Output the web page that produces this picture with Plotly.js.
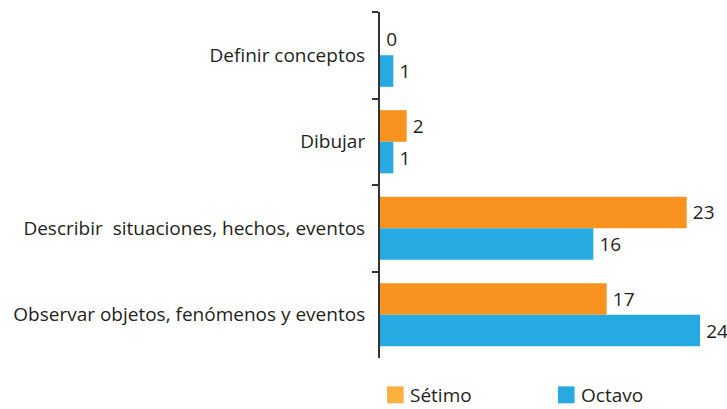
<!DOCTYPE html>
<html><head><meta charset="utf-8">
<script src="https://cdn.plot.ly/plotly-3.0.1.min.js"></script>
<style>body{margin:0;background:#fff}#chart{width:727px;height:409px}</style>
</head><body><div id="chart"></div>
<script>
const categories = ["Definir conceptos", "Dibujar", "Describir  situaciones, hechos, eventos", "Observar objetos, fenómenos y eventos"];
const seriesNames = ["Sétimo", "Octavo"];
const setimo = [0, 2, 23, 17];
const octavo = [1, 1, 16, 24];
const colors = ["#F7931E", "#27AAE1"];
const legendColors = ["#FBB040", "#27AAE1"];

const fam = "Open Sans, Noto Sans, sans-serif";
const labelFont = {family: fam, size: 19, color: "#231F20"};
const valueFont = {family: fam, size: 19, color: "#231F20"};
function trace(name, vals, color) {
  return {
    type: "bar", orientation: "h", name: name,
    y: categories, x: vals,
    marker: {color: color},
    text: vals.map(v => "\u2009" + v), textposition: "outside",
    textfont: valueFont, cliponaxis: false, hoverinfo: "none", showlegend: false
  };
}
const data = [trace(seriesNames[0], setimo, colors[0]), trace(seriesNames[1], octavo, colors[1])];

// manual legend (paper coords: x 0..1 = 380..700 px, y 0..1 = 358..12 px)
const legX = [0.022, 0.556];
const shapes = seriesNames.map((n, i) => ({
  type: "rect", xref: "paper", yref: "paper",
  x0: legX[i], x1: legX[i] + 0.052, y0: -0.131, y1: -0.082,
  fillcolor: legendColors[i], line: {width: 0}
}));
const annotations = seriesNames.map((n, i) => ({
  text: n, xref: "paper", yref: "paper", x: legX[i] + 0.068, y: -0.106,
  xanchor: "left", yanchor: "middle", showarrow: false, borderpad: 0,
  font: {family: fam, size: 19, color: "#231F20"}
}));

const layout = {
  width: 727, height: 409,
  margin: {l: 380, r: 27, t: 12, b: 51},
  paper_bgcolor: "#fff", plot_bgcolor: "#fff",
  font: labelFont,
  barmode: "group", bargap: 0.27, bargroupgap: 0,
  xaxis: {range: [0, 24], visible: false, fixedrange: true},
  yaxis: {autorange: "reversed", type: "category", showline: true, linecolor: "#333", linewidth: 2,
          ticks: "outside", tickson: "boundaries", ticklen: 6, tickwidth: 2, tickcolor: "#333",
          showgrid: false, zeroline: false, tickfont: labelFont, ticklabelstandoff: 9},
  showlegend: false,
  shapes: shapes, annotations: annotations
};
Plotly.newPlot("chart", data, layout, {staticPlot: true});
</script></body></html>
